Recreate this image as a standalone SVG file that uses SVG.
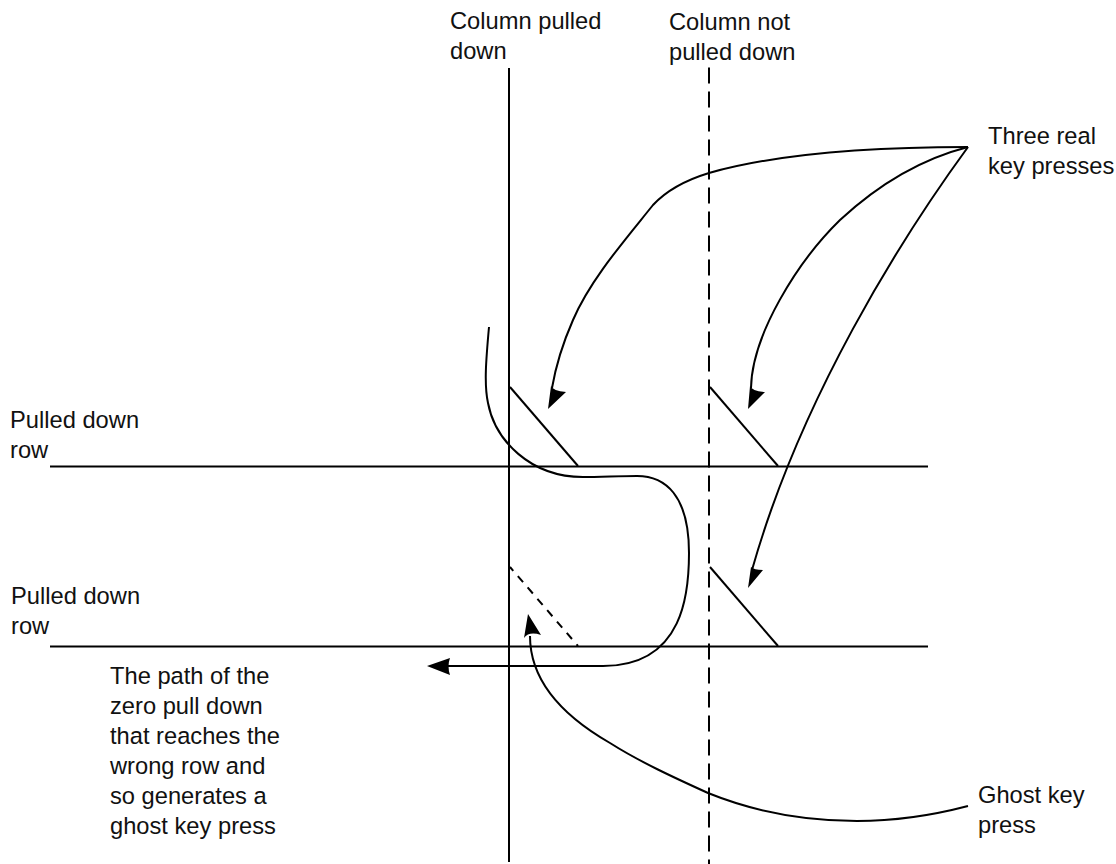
<svg xmlns="http://www.w3.org/2000/svg" width="1116" height="864" viewBox="0 0 1116 864">
<style>
text{font-family:"Liberation Sans",Arial,sans-serif;font-size:23.7px;fill:#111}
.l{fill:none;stroke:#000;stroke-width:2}
.d{stroke-dasharray:16 8}
.s{stroke-dasharray:8 7;stroke-dashoffset:3}
.h{fill:#000;stroke:none}
</style>
<rect width="1116" height="864" fill="#fff"/>
<g id="connectors">
<path class="l" d="M509 68V862"/>
<path class="l d" d="M709 67.500V864"/>
<path class="l" d="M50 466.500H928"/>
<path class="l" d="M50 646.500H928"/>
<path class="l" d="M510 387L578 466"/>
<path class="l" d="M710 387L778 466"/>
<path class="l s" d="M510 567L578 646"/>
<path class="l" d="M710 567L778 646"/>
<path class="l" d="M968 147C900 147 790 150 709 173C686 180 667 190 653 205C625 240 590 280 573 320C562 345 556 365 552 388"/>
<path class="h" d="M548 409L551 386Q553 391 566 392Z"/>
<path class="l" d="M968 147C925 158 880 183 840 220C797 262 752 335 751 388"/>
<path class="h" d="M748 409L750 386Q752 391 765 392Z"/>
<path class="l" d="M968 147C900 240 800 400 752 570"/>
<path class="h" d="M748 588L751 567Q754 570 763 570Z"/>
<path class="l" d="M489 327C486 360 484 385 488 403C495 440 530 477 583 477C600 477 620 476 637 476C665 476 689 495 689 553C689 590 685 666 603 666H445"/>
<path class="h" d="M427 666L450 658Q447 666 450 675Z"/>
<path class="l" d="M968 806C930 816 890 821 857 821C805 821 755 812 708 793C675 778 640 762 610 743C570 720 530 685 530 636"/>
<path class="h" d="M528 614L541 635Q529 631 524 638Z"/>
</g>
<g id="label-col1"><text x="450" y="29">Column pulled</text><text x="450" y="59">down</text></g>
<g id="label-col2"><text x="669" y="30">Column not</text><text x="669" y="60">pulled down</text></g>
<g id="label-real"><text x="988" y="144">Three real</text><text x="988" y="174">key presses</text></g>
<g id="label-row1"><text x="10" y="428">Pulled down</text><text x="10" y="458">row</text></g>
<g id="label-row2"><text x="11" y="604">Pulled down</text><text x="11" y="634">row</text></g>
<g id="label-path"><text x="110" y="684">The path of the</text><text x="110" y="714">zero pull down</text><text x="110" y="744">that reaches the</text><text x="110" y="774">wrong row and</text><text x="110" y="804">so generates a</text><text x="110" y="834">ghost key press</text></g>
<g id="label-ghost"><text x="978" y="803">Ghost key</text><text x="978" y="833">press</text></g>
</svg>
